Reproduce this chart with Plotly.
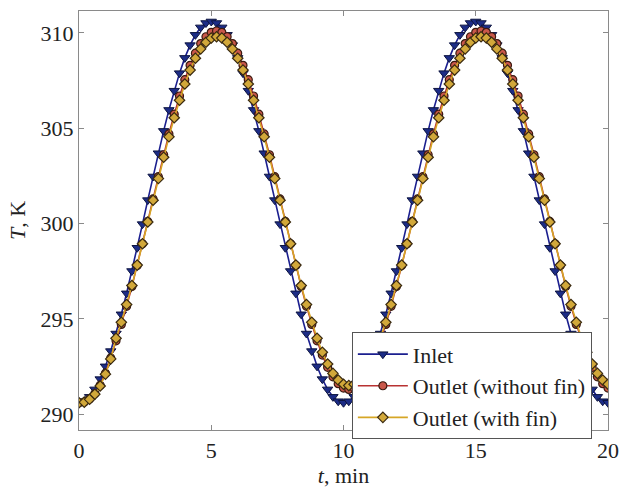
import plotly.graph_objects as go

# time axis, minutes (marker every 0.2 min)
t_min = [round(0.2 * i, 1) for i in range(101)]

inlet = [
    290.60, 290.68, 290.91, 291.30, 291.84, 292.51, 293.31, 294.23, 295.24, 296.34,
    297.51, 298.73, 299.97, 301.23, 302.47, 303.69, 304.86, 305.96, 306.97, 307.89,
    308.69, 309.36, 309.90, 310.29, 310.52, 310.60,
    310.52, 310.29, 309.90, 309.36, 308.69, 307.89, 306.97, 305.96, 304.86, 303.69,
    302.47, 301.23, 299.97, 298.73, 297.51, 296.34, 295.24, 294.23, 293.31, 292.51,
    291.84, 291.30, 290.91, 290.68, 290.60,
    290.68, 290.91, 291.30, 291.84, 292.51, 293.31, 294.23, 295.24, 296.34, 297.51,
    298.73, 299.97, 301.23, 302.47, 303.69, 304.86, 305.96, 306.97, 307.89, 308.69,
    309.36, 309.90, 310.29, 310.52, 310.60,
    310.52, 310.29, 309.90, 309.36, 308.69, 307.89, 306.97, 305.96, 304.86, 303.69,
    302.47, 301.23, 299.97, 298.73, 297.51, 296.34, 295.24, 294.23, 293.31, 292.51,
    291.84, 291.30, 290.91, 290.68, 290.60,
]

outlet_no_fin = [
    290.60, 290.64, 290.80, 291.08, 291.52, 292.15, 292.95,
    293.85, 294.71, 295.66, 296.70, 297.80, 298.94, 300.11, 301.29, 302.46, 303.61,
    304.70, 305.74, 306.69, 307.55, 308.30, 308.94, 309.44, 309.80, 310.03, 310.10,
    310.03, 309.80, 309.44, 308.94, 308.30, 307.55, 306.69, 305.74, 304.70, 303.61,
    302.46, 301.29, 300.11, 298.94, 297.80, 296.70, 295.66, 294.71, 293.85, 293.10,
    292.46, 291.96, 291.60, 291.37, 291.30,
    291.37, 291.60, 291.96, 292.46, 293.10, 293.85, 294.71, 295.66, 296.70, 297.80,
    298.94, 300.11, 301.29, 302.46, 303.61, 304.70, 305.74, 306.69, 307.55, 308.30,
    308.94, 309.44, 309.80, 310.03, 310.10,
    310.03, 309.80, 309.44, 308.94, 308.30, 307.55, 306.69, 305.74, 304.70, 303.61,
    302.46, 301.29, 300.11, 298.94, 297.80, 296.70, 295.66, 294.71, 293.85, 293.10,
    292.46, 291.96, 291.60, 291.37,
]

outlet_fin = [
    290.60, 290.63, 290.78, 291.05, 291.48, 292.10, 292.90,
    293.98, 294.82, 295.75, 296.75, 297.82, 298.94, 300.08, 301.22, 302.36, 303.48,
    304.55, 305.55, 306.47, 307.32, 308.05, 308.67, 309.16, 309.51, 309.73, 309.80,
    309.73, 309.51, 309.16, 308.67, 308.05, 307.32, 306.47, 305.55, 304.55, 303.48,
    302.36, 301.22, 300.08, 298.94, 297.82, 296.75, 295.75, 294.82, 293.98, 293.25,
    292.63, 292.14, 291.79, 291.57, 291.50,
    291.57, 291.79, 292.14, 292.63, 293.25, 293.98, 294.82, 295.75, 296.75, 297.82,
    298.94, 300.08, 301.22, 302.36, 303.48, 304.55, 305.55, 306.47, 307.32, 308.05,
    308.67, 309.16, 309.51, 309.73, 309.80,
    309.73, 309.51, 309.16, 308.67, 308.05, 307.32, 306.47, 305.55, 304.55, 303.48,
    302.36, 301.22, 300.08, 298.94, 297.82, 296.75, 295.75, 294.82, 293.98, 293.25,
    292.63, 292.14, 291.79, 291.57,
]

x_ticks = [0, 5, 10, 15, 20]
y_ticks = [290, 295, 300, 305, 310]

FONT = "Liberation Serif, Times New Roman, serif"

fig = go.Figure()
fig.add_trace(go.Scatter(
    x=t_min, y=inlet, mode="lines+markers", name="Inlet",
    line=dict(color="#1b1f8f", width=1.6),
    marker=dict(symbol="triangle-down", size=9, color="#1c2c86",
                line=dict(color="#0d1440", width=1)),
))
fig.add_trace(go.Scatter(
    x=t_min, y=outlet_no_fin, mode="lines+markers", name="Outlet (without fin)",
    line=dict(color="#b83232", width=1.6),
    marker=dict(symbol="circle", size=8, color="#c9574a",
                line=dict(color="#3a1a10", width=1.2)),
))
fig.add_trace(go.Scatter(
    x=t_min, y=outlet_fin, mode="lines+markers", name="Outlet (with fin)",
    line=dict(color="#d6a626", width=1.6),
    marker=dict(symbol="diamond", size=8, color="#d2a83a",
                line=dict(color="#3a2a10", width=1.2)),
))

axis_common = dict(
    showline=True, linecolor="#8a8a8a", linewidth=1.3, mirror="ticks",
    ticks="inside", ticklen=5, tickcolor="#8a8a8a", tickwidth=1,
    showgrid=False, zeroline=False,
    tickfont=dict(family=FONT, size=22, color="#222222"),
)

fig.update_xaxes(
    range=[0, 20], tickvals=x_ticks, ticktext=[str(v) for v in x_ticks],
    title=dict(text="<i>t</i>, min", font=dict(family=FONT, size=22, color="#222222"), standoff=2),
    **axis_common,
)
fig.update_yaxes(
    range=[289.17, 311.15], tickvals=y_ticks, ticktext=[str(v) for v in y_ticks],
    title=dict(text="<i>T</i>, K", font=dict(family=FONT, size=22, color="#222222"), standoff=8),
    **axis_common,
)

fig.update_layout(
    width=629, height=490,
    margin=dict(l=79, r=11, t=10, b=57),
    paper_bgcolor="white", plot_bgcolor="white",
    showlegend=True,
    legend=dict(
        x=0.5158, y=0.233, xanchor="left", yanchor="top",
        bgcolor="white", bordercolor="#555555", borderwidth=1,
        font=dict(family=FONT, size=22, color="#222222"),
        itemwidth=50, tracegroupgap=0,
    ),
)

fig.write_html("out.html")
